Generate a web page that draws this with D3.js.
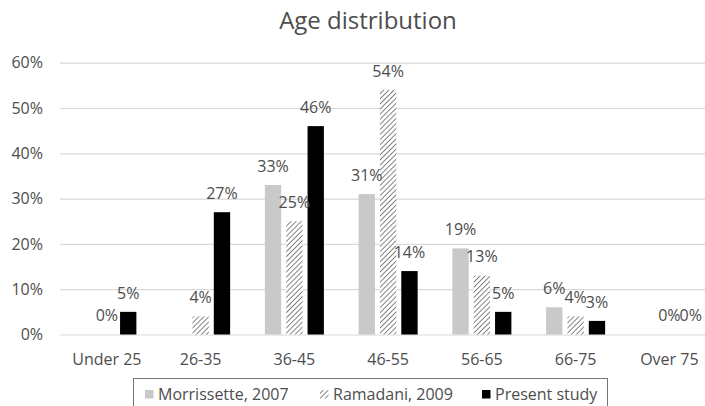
<!DOCTYPE html>
<html>
<head>
<meta charset="utf-8">
<script src="https://cdn.jsdelivr.net/npm/d3@7"></script>
<style>
  html, body { margin: 0; padding: 0; background: #fff; }
  svg { display: block; font-family: "Open Sans", "Noto Sans", sans-serif; }
</style>
</head>
<body>
<svg id="chart" width="705" height="406"></svg>
<script>
// Age groups and the share of respondents in each, per study
const categories = ["Under 25", "26-35", "36-45", "46-55", "56-65", "66-75", "Over 75"];
const morrissette = [null, null, 33, 31, 19, 6, null];
const ramadani = [0, 4, 25, 54, 13, 4, 0];
const presentStudy = [5, 27, 46, 14, 5, 3, 0];
const seriesNames = ["Morrissette, 2007", "Ramadani, 2009", "Present study"];
const yTicks = [0, 10, 20, 30, 40, 50, 60];

const series = [
  { key: "m", name: seriesNames[0], values: morrissette, fill: "#c9c9c9" },
  { key: "r", name: seriesNames[1], values: ramadani, fill: "url(#hatch)" },
  { key: "p", name: seriesNames[2], values: presentStudy, fill: "#000000" }
];

const svg = d3.select("#chart");
const textColor = "#4d4d4d";

// diagonal hatch for the Ramadani series
const defs = svg.append("defs");
const pat = defs.append("pattern")
  .attr("id", "hatch")
  .attr("patternUnits", "userSpaceOnUse")
  .attr("width", 3.6).attr("height", 3.6)
  .attr("patternTransform", "rotate(45)");
pat.append("rect").attr("width", 3.6).attr("height", 3.6).attr("fill", "#ffffff");
pat.append("line")
  .attr("x1", 0).attr("y1", 0).attr("x2", 0).attr("y2", 3.6)
  .attr("stroke", "#505050").attr("stroke-width", 1.4);

const plotLeft = 60, plotRight = 716.25, plotTop = 62.7, plotBottom = 334.5;

const x0 = d3.scaleBand()
  .domain(categories)
  .range([plotLeft, plotRight])
  .paddingInner(0.317)
  .paddingOuter(0.1585);

const x1 = d3.scaleBand()
  .domain(series.map(s => s.key))
  .range([0, x0.bandwidth()])
  .paddingInner(0.235)
  .paddingOuter(0.1175);

const y = d3.scaleLinear().domain([0, 60]).range([plotBottom, plotTop]);

// title
svg.append("text")
  .attr("x", 368).attr("y", 29)
  .attr("text-anchor", "middle")
  .attr("font-size", 24)
  .attr("fill", textColor)
  .text("Age distribution");

// horizontal gridlines + y tick labels
const yAxis = d3.axisLeft(y)
  .tickValues(yTicks)
  .tickSize(-(plotRight - plotLeft))
  .tickPadding(17)
  .tickFormat(d => d + "%");
const gy = svg.append("g")
  .attr("transform", `translate(${plotLeft},0)`)
  .call(yAxis);
gy.select(".domain").remove();
gy.selectAll(".tick line").attr("stroke", "#d9d9d9").attr("stroke-width", 1.2);
gy.selectAll(".tick text")
  .attr("font-size", 16)
  .attr("fill", textColor)
  .attr("font-family", "Open Sans, Noto Sans, sans-serif");

// category labels
const xAxis = d3.axisBottom(x0).tickSize(0).tickPadding(19);
const gx = svg.append("g")
  .attr("transform", `translate(0,${plotBottom})`)
  .call(xAxis);
gx.select(".domain").remove();
gx.selectAll(".tick text")
  .attr("font-size", 16)
  .attr("fill", textColor)
  .attr("font-family", "Open Sans, Noto Sans, sans-serif");

// bars
const groups = svg.append("g").selectAll("g")
  .data(categories)
  .join("g")
  .attr("transform", d => `translate(${x0(d)},0)`);

series.forEach(s => {
  groups.append("rect")
    .filter((c, i) => s.values[i] !== null)
    .attr("x", x1(s.key))
    .attr("width", x1.bandwidth())
    .attr("y", (c, i) => y(s.values[categories.indexOf(c)]))
    .attr("height", (c) => plotBottom - y(s.values[categories.indexOf(c)]))
    .attr("fill", s.fill);
});

// value labels
series.forEach(s => {
  groups.append("text")
    .filter((c, i) => s.values[i] !== null)
    .attr("x", x1(s.key) + x1.bandwidth() / 2)
    .attr("y", c => y(s.values[categories.indexOf(c)]) - 13.3)
    .attr("text-anchor", "middle")
    .attr("font-size", 16)
    .attr("fill", textColor)
    .text(c => s.values[categories.indexOf(c)] + "%");
});

// legend
const legend = svg.append("g");
legend.append("rect")
  .attr("x", 133.5).attr("y", 378.5)
  .attr("width", 474).attr("height", 40)
  .attr("fill", "#ffffff")
  .attr("stroke", "#767676").attr("stroke-width", 1);

const legendX = [145, 320, 482];
series.forEach((s, i) => {
  legend.append("rect")
    .attr("x", legendX[i]).attr("y", 390)
    .attr("width", 8.5).attr("height", 8.5)
    .attr("fill", s.fill);
  legend.append("text")
    .attr("x", legendX[i] + 13)
    .attr("y", 399.5)
    .attr("font-size", 16)
    .attr("fill", textColor)
    .text(s.name);
});
</script>
</body>
</html>
